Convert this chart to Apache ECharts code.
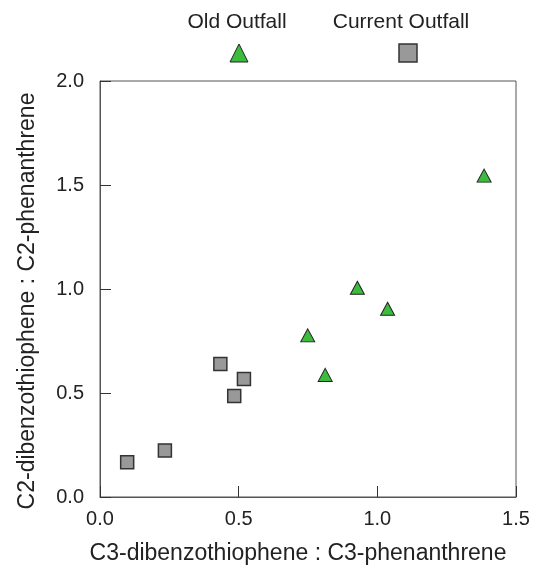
<!DOCTYPE html>
<html>
<head>
<meta charset="utf-8">
<script src="https://cdn.jsdelivr.net/npm/echarts@6/dist/echarts.min.js"></script>
<style>html,body{margin:0;padding:0;background:#fff}#c{width:534px;height:566px}</style>
</head>
<body>
<div id="c"></div>
<script>
const seriesNames = ['Old Outfall', 'Current Outfall'];
const oldOutfall = [[1.385, 1.545], [0.928, 1.006], [1.037, 0.905], [0.749, 0.777], [0.812, 0.587]];
const currentOutfall = [[0.098, 0.167], [0.234, 0.224], [0.434, 0.639], [0.519, 0.567], [0.484, 0.486]];
const xTicks = [0, 0.5, 1.0, 1.5];
const yTicks = [0, 0.5, 1.0, 1.5, 2.0];
const xTitle = 'C3-dibenzothiophene : C3-phenanthrene';
const yTitle = 'C2-dibenzothiophene : C2-phenanthrene';

const FONT = 'Liberation Sans, Arial, Helvetica, sans-serif';
const chart = echarts.init(document.getElementById('c'), null, {renderer: 'canvas'});
const gridL = 100, gridT = 81, gridW = 416, gridH = 416;
chart.setOption({
  animation: false,
  backgroundColor: '#fff',
  grid: {left: gridL, top: gridT, width: gridW, height: gridH, show: true, borderColor: '#555', borderWidth: 1,
         backgroundColor: 'transparent', containLabel: false, outerBoundsMode: 'none'},
  legend: {show: false},
  xAxis: {
    type: 'value', min: xTicks[0], max: xTicks[xTicks.length - 1], interval: 0.5,
    name: xTitle, nameLocation: 'middle', nameGap: 45,
    nameTextStyle: {fontFamily: FONT, fontSize: 23, color: '#222', padding: [0, 20, 0, 0]},
    axisLine: {show: true, lineStyle: {color: '#555', width: 1}},
    axisTick: {show: true, inside: true, length: 11, lineStyle: {color: '#333'}},
    axisLabel: {fontFamily: FONT, fontSize: 20, color: '#222', margin: 12, formatter: v => v.toFixed(1)},
    splitLine: {show: false}
  },
  yAxis: {
    type: 'value', min: yTicks[0], max: yTicks[yTicks.length - 1], interval: 0.5,
    name: yTitle, nameLocation: 'middle', nameGap: 61,
    nameTextStyle: {fontFamily: FONT, fontSize: 23, color: '#222', padding: [0, 24, 0, 0]},
    axisLine: {show: true, lineStyle: {color: '#555', width: 1}},
    axisTick: {show: true, inside: true, length: 11, lineStyle: {color: '#333'}},
    axisLabel: {fontFamily: FONT, fontSize: 20, color: '#222', margin: 16, formatter: v => v.toFixed(1)},
    splitLine: {show: false}
  },
  graphic: [
    {type: 'text', x: 237, y: 12, style: {text: seriesNames[0], font: '21px ' + FONT, fill: '#222', align: 'center'}},
    {type: 'text', x: 401, y: 12, style: {text: seriesNames[1], font: '21px ' + FONT, fill: '#222', align: 'center'}},
    {type: 'polygon', shape: {points: [[239, 44], [230, 62], [248, 62]]}, style: {fill: '#3dbb3d', stroke: '#222', lineWidth: 1}},
    {type: 'rect', shape: {x: 399, y: 44, width: 18, height: 18}, style: {fill: '#999999', stroke: '#333', lineWidth: 1.5}}
  ],
  series: [
    {name: seriesNames[0], type: 'scatter', data: oldOutfall, symbol: 'triangle', symbolSize: [14, 13],
     itemStyle: {color: '#3dbb3d', borderColor: '#222', borderWidth: 1, opacity: 1}},
    {name: seriesNames[1], type: 'scatter', data: currentOutfall, symbol: 'rect', symbolSize: 13,
     itemStyle: {color: '#999999', borderColor: '#333', borderWidth: 1.5, opacity: 1}}
  ]
});
</script>
</body>
</html>
